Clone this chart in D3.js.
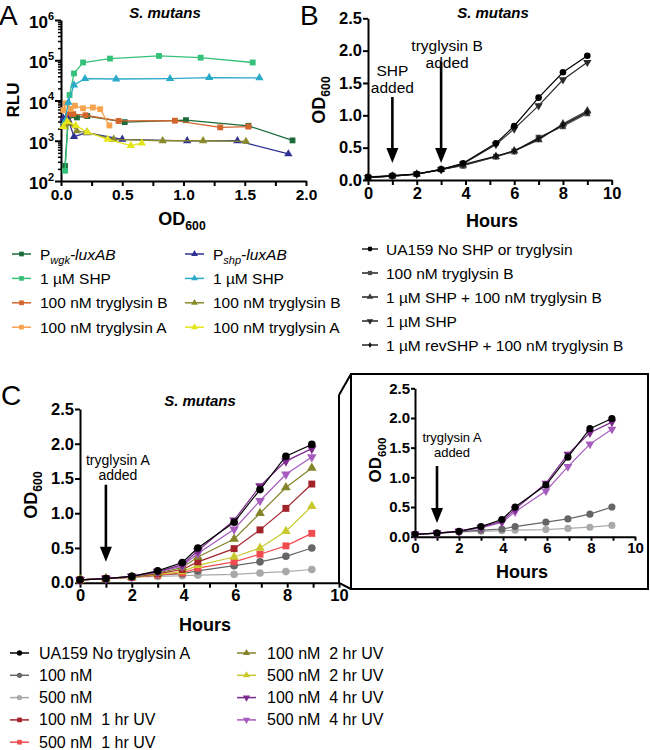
<!DOCTYPE html>
<html><head><meta charset="utf-8">
<script src="https://cdn.jsdelivr.net/npm/d3@7"></script>
<style>body{margin:0;background:#fff}svg{display:block}text{font-family:"Liberation Sans",Arial,sans-serif;white-space:pre}</style>
</head><body><svg id="c" width="650" height="750"></svg>
<script>
// ---------- DATA ----------
// Panel A: [OD600, RLU]
const aWgk      = [[0.033,236],[0.06,4100],[0.09,4300],[0.13,3800],[0.215,4100],[0.52,2900],[1.02,3250],[1.53,2350],[1.89,1020]];
const aWgkSHP   = [[0.033,180],[0.07,13700],[0.106,47000],[0.18,88000],[0.4,110000],[0.8,128000],[1.14,116000],[1.565,88000]];
const aWgkTryB  = [[0.03,2500],[0.06,4500],[0.1,4600],[0.2,4300],[0.47,3100],[0.93,3150],[1.30,2150],[1.53,2250]];
const aWgkTryA  = [[0.02,5800],[0.04,8500],[0.08,6200],[0.114,7400],[0.18,6400],[0.26,6700],[0.32,6100],[0.395,2400]];
const aShp      = [[0.02,3600],[0.06,3300],[0.106,1260],[0.21,1580],[0.5,1080],[1.03,990],[1.44,1000],[1.856,470]];
const aShpSHP   = [[0.03,2900],[0.06,9000],[0.106,24300],[0.196,34800],[0.45,34200],[0.89,34800],[1.21,36900],[1.62,36500]];
const aShpTryB  = [[0.03,2200],[0.07,2700],[0.13,1750],[0.215,1600],[0.43,1080],[0.83,1000],[1.16,1000],[1.51,960]];
const aShpTryA  = [[0.02,2240],[0.05,3000],[0.12,2370],[0.215,1650],[0.38,1080],[0.57,760],[0.66,870]];
const aLabels   = ["wgk","1 µM SHP","100 nM tryglysin B","100 nM tryglysin A","shp","1 µM SHP","100 nM tryglysin B","100 nM tryglysin A"];
const aColors   = ["#1d6b3b","#35c17a","#d2652c","#f7a34e","#2e3192","#2aa9c8","#8a8a2c","#e5e51c"];
const aXTicks   = [0,0.25,0.5,0.75,1,1.25,1.5,1.75,2];
const aYTicks   = [1e2,1e3,1e4,1e5,1e6];

// Panel B: OD600 vs hours
const bHours    = [0,1,2,3,3.9,5.25,6,7,8,9];
const bUA159    = [0.04,0.067,0.093,0.165,0.258,0.567,0.835,1.273,1.665,1.92];
const bTryB     = [0.05,0.067,0.093,0.165,0.22,0.36,0.44,0.655,0.83,1.03];
const bShpTryB  = [0.04,0.06,0.09,0.16,0.23,0.36,0.45,0.62,0.87,1.07];
const bShp      = [0.04,0.06,0.09,0.16,0.25,0.55,0.79,1.15,1.55,1.82];
const bRevShp   = [0.04,0.06,0.09,0.16,0.24,0.37,0.45,0.64,0.85,1.05];
const bLabels   = ["UA159 No SHP or tryglysin","100 nM tryglysin B","1 µM SHP + 100 nM tryglysin B","1 µM SHP","1 µM revSHP + 100 nM tryglysin B"];
const bColors   = ["#000000","#4a4a4a","#3a3a3a","#2a2a2a","#111111"];

// Panel C: OD600 vs hours
const cHours    = [0,1,2,3,3.95,4.55,5.95,6.95,7.95,8.95];
const cUA159    = [0.04,0.06,0.09,0.17,0.29,0.50,0.87,1.34,1.82,1.99];
const c100      = [0.04,0.06,0.08,0.11,0.13,0.17,0.245,0.30,0.38,0.50];
const c500      = [0.04,0.06,0.08,0.09,0.10,0.11,0.12,0.14,0.16,0.19];
const c100uv1   = [0.04,0.06,0.08,0.13,0.19,0.30,0.49,0.76,1.07,1.42];
const c500uv1   = [0.04,0.06,0.08,0.11,0.14,0.21,0.30,0.41,0.53,0.71];
const c100uv2   = [0.04,0.06,0.08,0.14,0.22,0.37,0.63,1.00,1.37,1.65];
const c500uv2   = [0.04,0.06,0.08,0.12,0.16,0.25,0.37,0.50,0.74,1.10];
const c100uv4   = [0.04,0.06,0.09,0.16,0.26,0.46,0.90,1.39,1.75,1.93];
const c500uv4   = [0.04,0.06,0.09,0.15,0.24,0.42,0.77,1.18,1.56,1.81];
const cLabels   = ["UA159 No tryglysin A","100 nM","500 nM","100 nM  1 hr UV","500 nM  1 hr UV","100 nM  2 hr UV","500 nM  2 hr UV","100 nM  4 hr UV","500 nM  4 hr UV"];
const cColors   = ["#000000","#666666","#a9a9a9","#a3232b","#f04c4f","#84842a","#c9c92f","#7c2a8c","#a65cbd"];
const odTicks   = [0,0.5,1,1.5,2,2.5];
const hourTicks = [0,1,2,3,4,5,6,7,8,9,10];

// ---------- HELPERS ----------
const svg = d3.select("#c");
const FONT = '"Liberation Sans",Arial,sans-serif';
const sym = {sq:d3.symbolSquare, tri:d3.symbolTriangle, circ:d3.symbolCircle, dia:d3.symbolDiamond};

function marker(g, type, x, y, size, color){
  return g.append("path").attr("d", d3.symbol(sym[type==="down"?"tri":type], size)())
    .attr("fill", color).attr("transform", `translate(${x},${y})` + (type==="down"?" rotate(180)":""));
}
function series(g, pts, xs, ys, color, type, size, lw){
  g.append("path").datum(pts).attr("fill","none").attr("stroke",color).attr("stroke-width",lw)
    .attr("d", d3.line().x(d=>xs(d[0])).y(d=>ys(d[1])));
  pts.forEach(d=>marker(g,type,xs(d[0]),ys(d[1]),size,color));
}
function styleAxis(g, fs){
  g.select(".domain").attr("stroke","#000").attr("stroke-width",2);
  g.selectAll(".tick line").attr("stroke","#000").attr("stroke-width",2);
  g.selectAll(".tick text").attr("font-family",FONT).attr("font-weight","bold").attr("font-size",fs).attr("fill","#000");
}
function odLabel(fs){
  const t = svg.append("text").attr("font-weight","bold").attr("font-size",fs).attr("text-anchor","middle");
  t.append("tspan").text("OD");
  t.append("tspan").attr("font-size",fs*0.68).attr("dy",fs*0.28).text("600");
  return t;
}
function txt(x,y,s,fs,opts={}){
  return svg.append("text").attr("x",x).attr("y",y).attr("font-size",fs)
    .attr("font-weight",opts.w||"normal").attr("font-style",opts.i?"italic":"normal")
    .attr("text-anchor",opts.a||"start").text(s);
}
function arrow(x, y1, y2){
  svg.append("line").attr("x1",x).attr("x2",x).attr("y1",y1).attr("y2",y2-12).attr("stroke","#000").attr("stroke-width",2.6);
  svg.append("path").attr("d",`M${x-6},${y2-15}L${x+6},${y2-15}L${x},${y2}Z`).attr("fill","#000");
}
function hoursPanel(xs, ys, fsTick, tickLen){
  const ax = svg.append("g").attr("transform",`translate(0,${ys(0)})`)
    .call(d3.axisBottom(xs).tickValues(hourTicks).tickSize(tickLen).tickSizeOuter(0).tickPadding(2)
      .tickFormat(d=> d%2===0 ? d : ""));
  styleAxis(ax, fsTick);
  const ay = svg.append("g").attr("transform",`translate(${xs(0)},0)`)
    .call(d3.axisLeft(ys).tickValues(odTicks).tickSize(tickLen).tickSizeOuter(0).tickPadding(1).tickFormat(d3.format(".1f")));
  styleAxis(ay, fsTick);
}

// ---------- PANEL A ----------
const axs = d3.scaleLinear().domain([0,2]).range([61,306]);
const ays = d3.scaleLog().domain([1e2,1e6]).range([181,20]);
{
  const minor = [];
  for(let e=2;e<6;e++) for(let k=2;k<10;k++) minor.push(k*Math.pow(10,e));
  const gm = svg.append("g").attr("transform","translate(61,0)")
    .call(d3.axisLeft(ays).tickValues(minor).tickSize(3).tickFormat(""));
  styleAxis(gm, 15); gm.select(".domain").remove(); gm.selectAll(".tick line").attr("stroke-width",1.5);
  const gy = svg.append("g").attr("transform","translate(61,0)")
    .call(d3.axisLeft(ays).tickValues(aYTicks).tickSize(6).tickSizeOuter(0).tickPadding(1).tickFormat(""));
  styleAxis(gy, 15);
  gy.selectAll(".tick").each(function(d){
    const t = d3.select(this).select("text").attr("dy","0.45em").attr("x",-7).attr("font-size",17);
    t.text(null); t.append("tspan").text("10");
    t.append("tspan").attr("font-size",11).attr("dy","-0.75em").text(Math.round(Math.log10(d)));
  });
  const gx = svg.append("g").attr("transform","translate(0,181)")
    .call(d3.axisBottom(axs).tickValues(aXTicks).tickSize(5).tickSizeOuter(0).tickPadding(3)
      .tickFormat(d=> (Math.round(d*4)%2===0) ? d.toFixed(1) : ""));
  styleAxis(gx, 15.5);
  const g = svg.append("g");
  const aData = [aWgk,aWgkSHP,aWgkTryB,aWgkTryA,aShp,aShpSHP,aShpTryB,aShpTryA];
  aData.forEach((s,i)=> series(g, s, axs, ays, aColors[i], i<4?"sq":"tri", i<4?34:30, 1.3));
  txt(165,18,"S. mutans",15,{w:"bold",i:true,a:"middle"});
  txt(-1,25,"A",28);
  txt(0,0,"RLU",17,{w:"bold",a:"middle"}).attr("x",null).attr("y",null).attr("transform","translate(19,100) rotate(-90)");
  odLabel(18).attr("transform","translate(182,225)");
  aLabels.forEach((lab,i)=>{
    const col = Math.floor(i/4), row = i%4;
    const lx = col ? 185 : 12, tx = col ? 213 : 40, y = 254 + row*24.4;
    svg.append("line").attr("x1",lx).attr("x2",lx+19).attr("y1",y).attr("y2",y).attr("stroke",aColors[i]).attr("stroke-width",1.5);
    marker(svg, col?"tri":"sq", lx+9.5, y, col?20:22, aColors[i]);
    const t = svg.append("text").attr("x",tx).attr("y",y+5.5).attr("font-size",15.5);
    if(row===0){
      t.append("tspan").text("P");
      t.append("tspan").attr("font-style","italic").attr("font-size",11).attr("dy",4).text(lab);
      t.append("tspan").attr("font-style","italic").attr("dy",-4).text("-luxAB");
    } else t.text(lab);
  });
}

// ---------- PANEL B ----------
const bxs = d3.scaleLinear().domain([0,10]).range([368,611.7]);
const bys = d3.scaleLinear().domain([0,2.5]).range([180,18.3]);
{
  hoursPanel(bxs, bys, 16.5, 5);
  const g = svg.append("g");
  const bData = [bUA159,bTryB,bShpTryB,bShp,bRevShp];
  const bTypes = ["circ","sq","tri","down","dia"];
  const bSizes = [34,34,30,30,18];
  [1,2,4,3,0].forEach(i=> series(g, bHours.map((h,j)=>[h,bData[i][j]]), bxs, bys, bColors[i], bTypes[i], bSizes[i], 1.2));
  txt(493,18,"S. mutans",15,{w:"bold",i:true,a:"middle"});
  txt(300,25,"B",28);
  odLabel(18).attr("transform","translate(325,100) rotate(-90)");
  txt(492,227,"Hours",18,{w:"bold",a:"middle"});
  arrow(bxs(1), bys(1.283), bys(0.263));
  txt(bxs(1),76,"SHP",15.5,{a:"middle"}); txt(bxs(1),93,"added",15.5,{a:"middle"});
  arrow(bxs(3), bys(1.824), bys(0.263));
  txt(bxs(3)+6,51,"tryglysin B",15.5,{a:"middle"}); txt(bxs(3)+6,68,"added",15.5,{a:"middle"});
  bLabels.forEach((lab,i)=>{
    const y = 249 + i*24;
    svg.append("line").attr("x1",362).attr("x2",378).attr("y1",y).attr("y2",y).attr("stroke","#000").attr("stroke-width",1.3);
    marker(svg, bTypes[i], 370, y, i===4?10:18, bColors[i]);
    txt(386, y+5.5, lab, 15.5);
  });
}

// ---------- PANEL C ----------
const cxs = d3.scaleLinear().domain([0,10]).range([80,339]);
const cys = d3.scaleLinear().domain([0,2.5]).range([582.7,409]);
const cData = [cUA159,c100,c500,c100uv1,c500uv1,c100uv2,c500uv2,c100uv4,c500uv4];
const cTypes = ["circ","circ","circ","sq","sq","tri","tri","down","down"];
{
  hoursPanel(cxs, cys, 16.5, 5);
  const g = svg.append("g");
  [2,1,4,6,3,5,8,7,0].forEach(i=> series(g, cHours.map((h,j)=>[h,cData[i][j]]), cxs, cys, cColors[i], cTypes[i], cTypes[i]==="circ"?46:(cTypes[i]==="sq"?48:40), 1.2));
  txt(200,406,"S. mutans",15,{w:"bold",i:true,a:"middle"});
  txt(1,405,"C",28);
  odLabel(18).attr("transform","translate(37,495) rotate(-90)");
  txt(205,631,"Hours",18,{w:"bold",a:"middle"});
  arrow(cxs(1), cys(1.41), cys(0.30));
  txt(cxs(1)+12,465,"tryglysin A",14,{a:"middle"}); txt(cxs(1)+12,480,"added",14,{a:"middle"});
  cLabels.forEach((lab,i)=>{
    const col = i<5?0:1, row = col? i-5 : i;
    const lx = col?237:10, tx = col?267:39, y = 653 + row*22.3;
    svg.append("line").attr("x1",lx).attr("x2",lx+19).attr("y1",y).attr("y2",y).attr("stroke",cColors[i]).attr("stroke-width",1.5);
    marker(svg, cTypes[i], lx+9.5, y, 22, cColors[i]);
    txt(tx, y+5.5, lab, 16);
  });
}

// ---------- INSET ----------
{
  svg.append("path").attr("d","M339,395L339,583L351,589M339,395L351,374").attr("fill","none").attr("stroke","#000").attr("stroke-width",2);
  svg.append("rect").attr("x",351).attr("y",374).attr("width",297).attr("height",215).attr("fill","none").attr("stroke","#000").attr("stroke-width",2);
  const ixs = d3.scaleLinear().domain([0,10]).range([415,635]);
  const iys = d3.scaleLinear().domain([0,2.5]).range([536.7,388.3]);
  hoursPanel(ixs, iys, 15, 4);
  const g = svg.append("g");
  [2,1,8,7,0].forEach(i=> series(g, cHours.map((h,j)=>[h,cData[i][j]]), ixs, iys, cColors[i], cTypes[i], cTypes[i]==="circ"?40:34, 1.2));
  odLabel(17).attr("transform","translate(381,460) rotate(-90)");
  txt(522,578,"Hours",18,{w:"bold",a:"middle"});
  arrow(ixs(1), iys(1.19), iys(0.23));
  txt(ixs(1)+15,442,"tryglysin A",13,{a:"middle"}); txt(ixs(1)+15,457,"added",13,{a:"middle"});
}
</script></body></html>
